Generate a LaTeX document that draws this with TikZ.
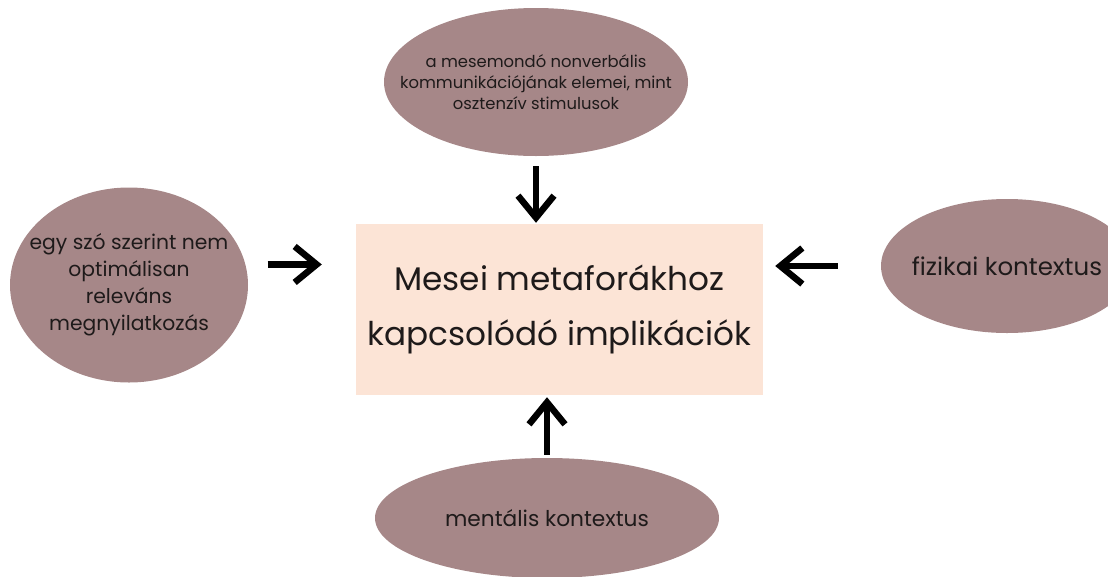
\documentclass[tikz,border=0pt]{standalone}
\usepackage{fontspec}
\setmainfont{Poppins}
\usetikzlibrary{shapes.geometric,arrows.meta}
\definecolor{mauve}{HTML}{A68788}
\definecolor{peach}{HTML}{FCE4D6}
\definecolor{ink}{HTML}{1E1A1A}
\tikzset{
  bubble/.style={ellipse,fill=mauve,inner sep=-40pt,text=ink,align=center},
  core/.style={rectangle,fill=peach,minimum width=407pt,minimum height=171pt,text=ink,align=center},
  push/.style={-{Straight Barb[length=22pt,width=36pt,sharp]},line width=6.5pt}
}
\begin{document}
\begin{tikzpicture}[x=1pt,y=-1pt]
  \useasboundingbox (0,0) rectangle (1108,576);
  \clip (0,0) rectangle (1108,576);
  \node[core,font=\fontsize{32.7}{55}\selectfont] (a) at (559.5,309.5) {Mesei metaforákhoz\\kapcsolódó implikációk};
  \node[bubble,minimum width=304pt,minimum height=148pt,font=\fontsize{16.4}{21}\selectfont] (t) at (536,82)
    {a mesemondó nonverbális\\kommunikációjának elemei, mint\\osztenzív stimulusok};
  \node[bubble,minimum width=238pt,minimum height=195pt,font=\fontsize{20.3}{27}\selectfont] (l) at (129,285)
    {egy szó szerint nem\\optimálisan\\releváns\\megnyilatkozás};
  \node[bubble,minimum width=252pt,minimum height=134pt,font=\fontsize{24.5}{28}\selectfont] (r) at (1007,266) {fizikai kontextus};
  \node[bubble,minimum width=344pt,minimum height=120pt,font=\fontsize{21.7}{26}\selectfont] (b) at (547,518) {mentális kontextus};
  \draw[push,shorten <=10pt,shorten >=1pt] (t.south) -- (t.south |- a.north);
  \draw[push,shorten <=22pt,shorten >=34pt] (l.10) -- (l.10 -| a.west);
  \draw[push,shorten <=43pt,shorten >=12pt] (r.west) -- (r.west -| a.east);
  \draw[push,shorten <=3pt,shorten >=2pt] (b.north) -- (b.north |- a.south);
\end{tikzpicture}
\end{document}
